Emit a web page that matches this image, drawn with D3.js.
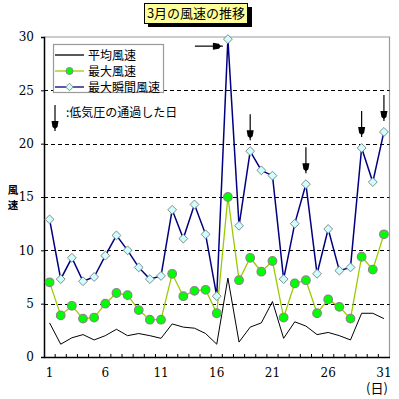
<!DOCTYPE html>
<html>
<head>
<meta charset="utf-8">
<script src="https://cdn.jsdelivr.net/npm/d3@7"></script>
<style>
  body { margin: 0; background: #fff; }
  text { font-family: "Noto Sans CJK JP", "DejaVu Sans", sans-serif; }
</style>
</head>
<body>
<div id="vis"></div>
<script>
// daily wind speeds for March (m/s)
let days = d3.range(1, 32)
let avgWind = [3.2, 1.2, 1.8, 2.1, 1.6, 2.0, 2.6, 2.0, 2.2, 2.0,
  1.75, 3.1, 2.8, 2.7, 2.2, 1.2, 7.4, 1.4, 2.8, 3.2,
  5.2, 1.75, 3.3, 2.9, 2.1, 2.3, 2.0, 1.6, 4.1, 4.1, 3.6]
let maxWind = [7.0, 3.9, 4.8, 3.6, 3.7, 5.0, 6.0, 5.8, 4.4, 3.5,
  3.5, 7.8, 5.7, 6.2, 6.3, 4.1, 15.0, 7.2, 9.3, 8.0,
  9.0, 3.7, 6.9, 7.2, 4.1, 5.4, 4.7, 3.6, 9.4, 8.2, 11.5]
let gustWind = [12.9, 7.3, 9.3, 7.1, 7.5, 9.5, 11.4, 10.0, 8.4, 7.3,
  7.6, 13.8, 11.1, 14.3, 11.5, 5.7, 29.8, 12.3, 19.3, 17.5,
  17.0, 7.3, 12.5, 16.2, 7.8, 12.0, 8.1, 8.4, 19.6, 16.4, 21.1]
let lowPressureDays = [19, 24, 29, 31] // arrows pointing down
let sideArrowDay = 17                   // arrow from the left
let yTicks = [0, 5, 10, 15, 20, 25, 30]
let xLabels = [1, 6, 11, 16, 21, 26, 31]
let seriesNames = ['平均風速', '最大風速', '最大瞬間風速']

let W = 399, H = 399
let plot = { left: 44, right: 389.5, top: 37, bottom: 357 }

let svg = d3.select('#vis').append('svg')
  .attr('width', W).attr('height', H)

let x = d3.scaleBand().domain(days).range([plot.left, plot.right])
let cx = d => x(d) + x.bandwidth() / 2
let y = d3.scaleLinear().domain([0, 30]).range([plot.bottom, plot.top])

// plot border (top and right in gray)
svg.append('path')
  .attr('d', `M${plot.left},${plot.top}H${plot.right}V${plot.bottom}`)
  .attr('fill', 'none').attr('stroke', '#999').attr('stroke-width', 1.2)

// dashed gridlines
svg.append('g').selectAll('line')
  .data(yTicks.filter(v => v > 0 && v < 30))
  .join('line')
  .attr('x1', plot.left).attr('x2', plot.right)
  .attr('y1', d => Math.round(y(d)) + 0.5).attr('y2', d => Math.round(y(d)) + 0.5)
  .attr('stroke', '#000').attr('stroke-dasharray', '4,3')

// y axis
let yAxis = svg.append('g')
  .attr('transform', `translate(${plot.left},0)`)
  .call(d3.axisLeft(y).tickValues(yTicks).tickSize(3).tickPadding(7))
yAxis.select('.domain').attr('stroke-width', 1.5)
yAxis.selectAll('text').attr('font-size', 12).attr('fill', '#000')
  .style('font-family', '"DejaVu Serif", serif')

// x axis, ticks inside at category boundaries
let xAxis = svg.append('g')
  .attr('transform', `translate(0,${plot.bottom})`)
  .call(d3.axisBottom(x).tickValues(xLabels).tickSize(0).tickPadding(11))
xAxis.select('.domain').attr('stroke-width', 1.5)
xAxis.selectAll('text').attr('font-size', 12).attr('fill', '#000')
  .style('font-family', '"DejaVu Serif", serif')
xAxis.append('g').selectAll('line')
  .data(days.slice(1))
  .join('line')
  .attr('x1', d => x(d)).attr('x2', d => x(d))
  .attr('y1', 0).attr('y2', -3)
  .attr('stroke', '#000')

svg.append('text')
  .attr('x', 377).attr('y', 393)
  .attr('text-anchor', 'middle').attr('font-size', 13)
  .text('(日)')

// y axis title, stacked vertically
svg.append('g').selectAll('text')
  .data(['風', '速'])
  .join('text')
  .attr('x', 13).attr('y', (d, i) => 194 + i * 15)
  .attr('text-anchor', 'middle').attr('font-size', 10.5).attr('font-weight', 'bold')
  .text(d => d)

let line = d3.line().x((d, i) => cx(days[i])).y(d => y(d))

// average
svg.append('path').datum(avgWind)
  .attr('d', line).attr('fill', 'none').attr('stroke', '#000').attr('stroke-width', 1)

// max
svg.append('path').datum(maxWind)
  .attr('d', line).attr('fill', 'none').attr('stroke', '#99cc00').attr('stroke-width', 1.3)

// gust
svg.append('path').datum(gustWind)
  .attr('d', line).attr('fill', 'none').attr('stroke', '#000080').attr('stroke-width', 1.5)

svg.append('g').selectAll('circle')
  .data(maxWind)
  .join('circle')
  .attr('cx', (d, i) => cx(days[i])).attr('cy', d => y(d))
  .attr('r', 4.3)
  .attr('fill', '#00ff00').attr('stroke', '#888').attr('stroke-width', 1.2)

let diamond = d3.symbol().type(d3.symbolDiamond2).size(50)
svg.append('g').selectAll('path')
  .data(gustWind)
  .join('path')
  .attr('transform', (d, i) => `translate(${cx(days[i])},${y(d)})`)
  .attr('d', diamond)
  .attr('fill', '#ccffff').attr('stroke', '#888').attr('stroke-width', 1)

// arrows: stem plus filled head ending at the tip
function downArrow(g, x0, tip, len) {
  g.append('line').attr('x1', x0).attr('x2', x0)
    .attr('y1', tip - len).attr('y2', tip).attr('stroke', '#000').attr('stroke-width', 1.2)
  g.append('path')
    .attr('d', `M${x0 - 3.5},${tip - 10}H${x0 + 3.5}L${x0 + 2.5},${tip - 4}L${x0},${tip - 2}L${x0 - 2.5},${tip - 4}Z`)
    .attr('fill', '#000')
}

let arrows = svg.append('g')
lowPressureDays.forEach(d => {
  downArrow(arrows, cx(d), y(gustWind[d - 1]) - 11, 26)
})

// side arrow at the peak
let ax = cx(sideArrowDay) - 5, ay = y(gustWind[sideArrowDay - 1]) + 7
arrows.append('line').attr('x1', ax - 28).attr('x2', ax)
  .attr('y1', ay).attr('y2', ay).attr('stroke', '#000').attr('stroke-width', 1.2)
arrows.append('path')
  .attr('d', `M${ax - 10},${ay - 3.5}V${ay + 3.5}L${ax - 4},${ay + 2.5}L${ax - 2},${ay}L${ax - 4},${ay - 2.5}Z`)
  .attr('fill', '#000')

// legend
let lg = svg.append('g')
lg.append('rect').attr('x', 53.5).attr('y', 44.5).attr('width', 110).attr('height', 48)
  .attr('fill', '#fff').attr('stroke', '#999').attr('stroke-width', 1.2)
let legendStyle = [
  { stroke: '#000', marker: null },
  { stroke: '#99cc00', marker: 'circle' },
  { stroke: '#000080', marker: 'diamond' }
]
seriesNames.forEach((name, i) => {
  let ly = 55 + i * 16
  let s = legendStyle[i]
  lg.append('line').attr('x1', 55).attr('x2', 84).attr('y1', ly).attr('y2', ly)
    .attr('stroke', s.stroke).attr('stroke-width', 1.3)
  if (s.marker == 'circle') {
    lg.append('circle').attr('cx', 69.5).attr('cy', ly).attr('r', 3.5)
      .attr('fill', '#00ff00').attr('stroke', '#888')
  } else if (s.marker == 'diamond') {
    lg.append('path').attr('transform', `translate(69.5,${ly})`)
      .attr('d', d3.symbol().type(d3.symbolDiamond2).size(36))
      .attr('fill', '#ccffff').attr('stroke', '#888')
  }
  lg.append('text').attr('x', 88).attr('y', ly + 4.5)
    .attr('font-size', 12).text(name)
})

// note about arrows
downArrow(svg.append('g'), 55, 131, 26)
svg.append('text').attr('x', 66).attr('y', 116.5)
  .attr('font-size', 12).text(':低気圧の通過した日')

// title box with shadow
svg.append('rect').attr('x', 148).attr('y', 7).attr('width', 104).attr('height', 20).attr('fill', '#000')
svg.append('rect').attr('x', 144.5).attr('y', 3.5).attr('width', 103).attr('height', 20)
  .attr('fill', '#ffff99').attr('stroke', '#000').attr('stroke-width', 1)
svg.append('text').attr('x', 196).attr('y', 18)
  .attr('text-anchor', 'middle').attr('font-size', 13)
  .text('3月の風速の推移')
</script>
</body>
</html>
